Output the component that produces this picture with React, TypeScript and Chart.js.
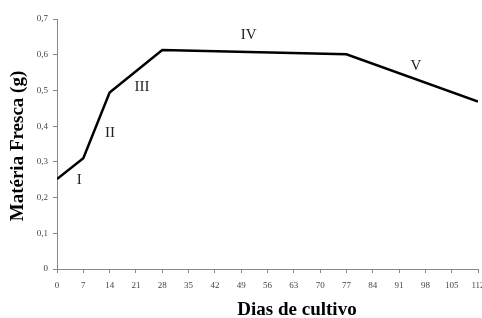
import React, { useEffect, useRef } from "react";
import { Chart, registerables } from "chart.js";

Chart.register(...registerables);

const days = [0, 7, 14, 28, 77, 112];
const freshMass = [0.252, 0.31, 0.494, 0.613, 0.601, 0.469];
const phaseLabels = ["I", "II", "III", "IV", "V"];
const phaseDays = [5.9, 14.1, 22.6, 51, 95.5];
const phaseValues = [0.249, 0.381, 0.51, 0.655, 0.569];
const xTitle = "Dias de cultivo";
const yTitle = "Matéria Fresca (g)";

const SERIF = "'Liberation Serif', 'Times New Roman', serif";

const phasePlugin = {
  id: "phaseLabels",
  afterDatasetsDraw(chart: any) {
    const { ctx, scales } = chart;
    ctx.save();
    ctx.font = `15px ${SERIF}`;
    ctx.fillStyle = "#222";
    ctx.textAlign = "center";
    ctx.textBaseline = "middle";
    phaseLabels.forEach((t, i) => {
      ctx.fillText(t, scales.x.getPixelForValue(phaseDays[i]), scales.y.getPixelForValue(phaseValues[i]));
    });
    ctx.restore();
  },
};

const titlePlugin = {
  id: "axisTitles",
  afterDraw(chart: any) {
    const { ctx, chartArea } = chart;
    ctx.save();
    ctx.font = `bold 19px ${SERIF}`;
    ctx.fillStyle = "#000";
    ctx.textAlign = "center";
    ctx.textBaseline = "middle";
    ctx.fillText(xTitle, chartArea.left + 240, chartArea.bottom + 41);
    ctx.translate(18, (chartArea.top + chartArea.bottom) / 2 + 2);
    ctx.rotate(-Math.PI / 2);
    ctx.fillText(yTitle, 0, 0);
    ctx.restore();
  },
};

export default function App() {
  const ref = useRef<HTMLCanvasElement>(null);
  useEffect(() => {
    if (!ref.current) return;
    const tickFont = { family: SERIF, size: 9 };
    const chart = new Chart(ref.current, {
      type: "line",
      data: {
        datasets: [
          {
            data: days.map((d, i) => ({ x: d, y: freshMass[i] })),
            borderColor: "#000",
            borderWidth: 2.5,
            pointRadius: 0,
            tension: 0,
          },
        ],
      },
      options: {
        animation: false,
        responsive: false,
        layout: { padding: { top: 19, right: 4, left: 0, bottom: 0 } },
        plugins: { legend: { display: false }, tooltip: { enabled: false } },
        scales: {
          x: {
            type: "linear",
            min: 0,
            max: 112,
            afterFit(scale: any) {
              scale.height = 49;
              scale.paddingLeft = 0;
              scale.paddingRight = 0;
            },
            ticks: { stepSize: 7, color: "#444", font: tickFont, padding: 7, maxRotation: 0, autoSkip: false },
            grid: { drawOnChartArea: false, drawTicks: true, tickLength: 4, color: "#888", tickColor: "#888" },
            border: { color: "#888", width: 1 },
          },
          y: {
            min: 0,
            max: 0.7,
            afterFit(scale: any) {
              scale.width = 57;
              scale.paddingTop = 0;
              scale.paddingBottom = 0;
            },
            ticks: {
              stepSize: 0.1,
              color: "#444",
              font: tickFont,
              padding: 5,
              callback: (v: any) => (v === 0 ? "0" : Number(v).toFixed(1).replace(".", ",")),
            },
            grid: { drawOnChartArea: false, drawTicks: true, tickLength: 4, color: "#888", tickColor: "#888" },
            border: { color: "#888", width: 1 },
          },
        },
      },
      plugins: [phasePlugin, titlePlugin],
    });
    return () => chart.destroy();
  }, []);
  return (
    <div style={{ position: "fixed", left: 0, top: 0, width: 482, height: 318, background: "#fff" }}>
      <canvas ref={ref} width={482} height={318} style={{ width: 482, height: 318 }} />
    </div>
  );
}
